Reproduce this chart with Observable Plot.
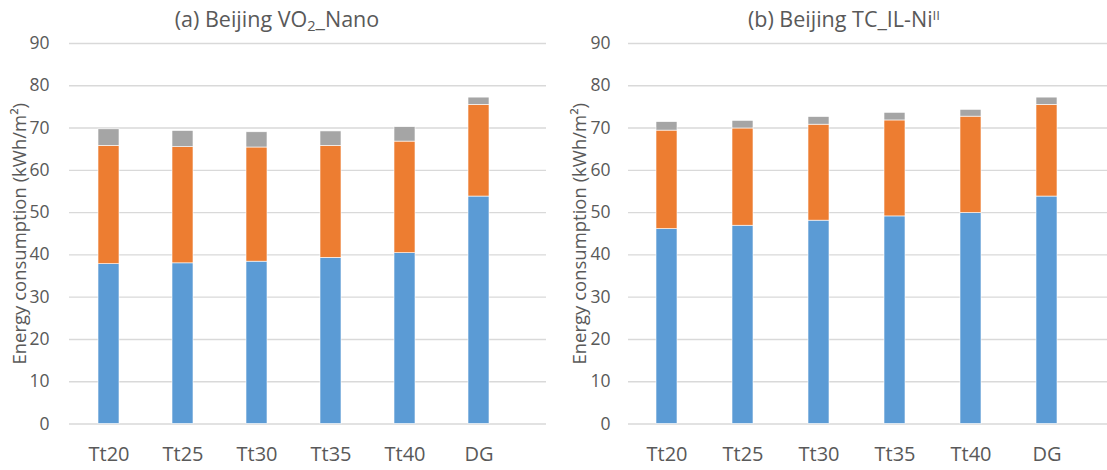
<!DOCTYPE html>
<html>
<head>
<meta charset="utf-8">
<script src="https://cdn.jsdelivr.net/npm/d3@7"></script>
<script src="https://cdn.jsdelivr.net/npm/@observablehq/plot@0.6"></script>
<style>
  html, body { margin: 0; padding: 0; background: white; }
  #wrap { position: relative; width: 1107px; height: 470px; font-family: "Open Sans", sans-serif; color: #595959; }
  .panel { position: absolute; top: 0; }
  .title { position: relative; height: 34px; }
  .title span { position: absolute; top: 8px; transform: translateX(-50%); white-space: nowrap; font-size: 21.5px; line-height: 21.5px; color: #595959; }
  .title sub { font-size: 0.68em; vertical-align: -0.3em; line-height: 0; }
  .title sup { font-size: 0.62em; vertical-align: 0.55em; line-height: 0; }
  svg { display: block; }
</style>
</head>
<body>
<div id="wrap">
  <div class="panel" id="pa" style="left:0; width:553px;">
    <div class="title"><span style="left:277px;">(a) Beijing VO<sub>2</sub>_Nano</span></div>
  </div>
  <div class="panel" id="pb" style="left:553px; width:554px;">
    <div class="title"><span style="left:291px;">(b) Beijing TC_IL-Ni<sup>II</sup></span></div>
  </div>
</div>
<script>
const categories = ["Tt20", "Tt25", "Tt30", "Tt35", "Tt40", "DG"];
const seriesNames = ["Series 1", "Series 2", "Series 3"];
const seriesColors = ["#5B9BD5", "#ED7D31", "#A5A5A5"];
const yTicks = [0, 10, 20, 30, 40, 50, 60, 70, 80, 90];
const yLabel = "Energy consumption (kWh/m²)";

// (a) Beijing VO2_Nano
const aSeries1 = [37.8, 38.0, 38.4, 39.3, 40.4, 53.8];
const aSeries2 = [28.0, 27.5, 27.0, 26.5, 26.4, 21.7];
const aSeries3 = [3.9, 3.8, 3.6, 3.4, 3.4, 1.7];

// (b) Beijing TC_IL-Ni^II
const bSeries1 = [46.1, 46.9, 48.1, 49.1, 49.9, 53.8];
const bSeries2 = [23.3, 23.0, 22.7, 22.7, 22.8, 21.7];
const bSeries3 = [2.0, 1.8, 1.8, 1.8, 1.6, 1.7];

function panel(s1, s2, s3, o) {
  const rows = [];
  categories.forEach((c, i) => {
    rows.push({cat: c, s: seriesNames[0], v: s1[i]});
    rows.push({cat: c, s: seriesNames[1], v: s2[i]});
    rows.push({cat: c, s: seriesNames[2], v: s3[i]});
  });
  return Plot.plot({
    width: o.width,
    height: 436,
    marginTop: 9,
    marginBottom: 46.5,
    marginLeft: o.ml,
    marginRight: o.mr,
    style: {fontFamily: "Open Sans, sans-serif", color: "#595959", background: "white", overflow: "visible"},
    x: {domain: categories, range: o.xr, paddingInner: 0.72, paddingOuter: 0.36, label: null},
    y: {domain: [0, 90], label: null},
    color: {domain: seriesNames, range: seriesColors},
    marks: [
      Plot.gridY(yTicks, {stroke: "#D9D9D9", strokeOpacity: 1, strokeWidth: 1.4}),
      Plot.barY(rows, {x: "cat", y: "v", fill: "s", stroke: "white", strokeWidth: 0.6}),
      Plot.axisY(yTicks, {tickSize: 0, tickPadding: o.tp, fontSize: 17.5, label: null}),
      Plot.axisX({tickSize: 0, tickPadding: 23, fontSize: 20, label: null}),
      Plot.text([yLabel], {frameAnchor: "left", textAnchor: "middle", dx: o.ldx, rotate: -90, fontSize: 18.5, fill: "#595959"})
    ]
  });
}

document.getElementById("pa").appendChild(
  panel(aSeries1, aSeries2, aSeries3, {width: 553, ml: 69, mr: 7, xr: [69, 518.5], tp: 20, ldx: -49})
);
document.getElementById("pb").appendChild(
  panel(bSeries1, bSeries2, bSeries3, {width: 554, ml: 75, mr: 0, xr: [74.5, 532.7], tp: 18, ldx: -48})
);
</script>
</body>
</html>
